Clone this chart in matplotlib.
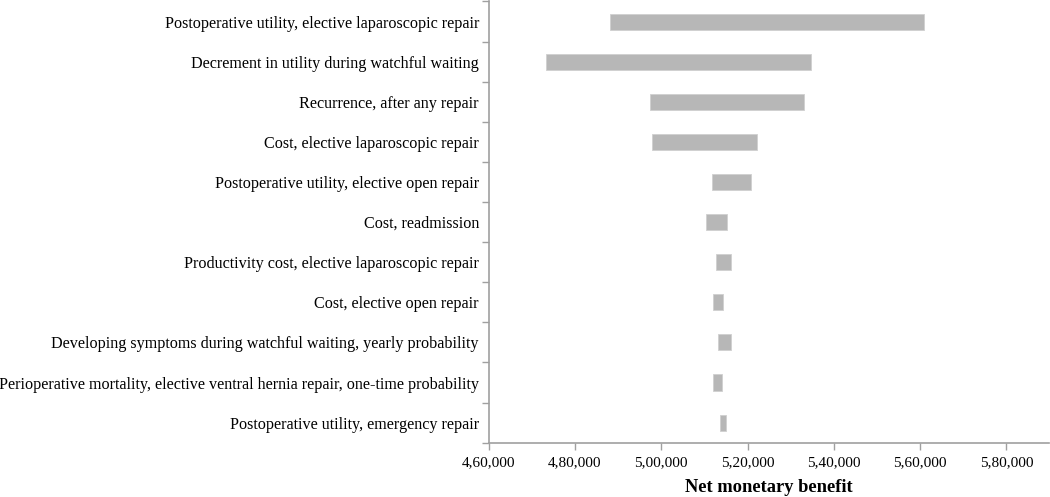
import matplotlib
matplotlib.use("Agg")
import matplotlib.pyplot as plt
from matplotlib.ticker import FixedLocator, FuncFormatter

categories = [
    "Postoperative utility, elective laparoscopic repair",
    "Decrement in utility during watchful waiting",
    "Recurrence, after any repair",
    "Cost, elective laparoscopic repair",
    "Postoperative utility, elective open repair",
    "Cost, readmission",
    "Productivity cost, elective laparoscopic repair",
    "Cost, elective open repair",
    "Developing symptoms during watchful waiting, yearly probability",
    "Perioperative mortality, elective ventral hernia repair, one-time probability",
    "Postoperative utility, emergency repair",
]
low_values = [488120, 473210, 497460, 497930, 511840, 510450, 512770, 512070, 513230, 512000, 513690]
high_values = [560850, 534790, 533030, 522270, 520810, 515320, 516100, 514390, 516240, 514160, 515080]
x_ticks = [460000, 480000, 500000, 520000, 540000, 560000, 580000]


def indian_format(v, pos=None):
    v = int(round(v))
    s = str(v)
    last3 = s[-3:]
    rest = s[:-3]
    parts = []
    while len(rest) > 2:
        parts.insert(0, rest[-2:])
        rest = rest[:-2]
    if rest:
        parts.insert(0, rest)
    return ",".join(parts + [last3]) if parts else last3


plt.rcParams['font.family'] = ['Liberation Serif', 'DejaVu Serif']

fig = plt.figure(figsize=(10.5, 4.97), dpi=100)
ax = fig.add_axes([0.4654, 0.1093, 0.9995 - 0.4654, 0.997 - 0.1093])

ypos = list(range(len(categories)))
widths = [h - l for l, h in zip(low_values, high_values)]
ax.barh(ypos, widths, left=low_values, height=0.4, color="#b7b7b7",
        edgecolor="#d0d0d0", linewidth=0.6)

ax.set_ylim(len(categories) - 0.5, -0.5)
ax.set_xlim(460000, 590000)

ax.set_yticks(ypos)
ax.set_yticklabels(categories, fontsize=11.6)
ax.tick_params(axis='y', which='major', length=0, pad=7)
ax.yaxis.set_minor_locator(FixedLocator([i - 0.5 for i in range(len(categories) + 1)]))
ax.tick_params(axis='y', which='minor', length=5, color="#a0a0a0", width=1)

ax.xaxis.set_major_locator(FixedLocator(x_ticks))
ax.xaxis.set_major_formatter(FuncFormatter(indian_format))
ax.tick_params(axis='x', which='major', length=5, color="#a0a0a0", width=1,
               labelsize=11, pad=5)

for s in ["top", "right"]:
    ax.spines[s].set_visible(False)
for s in ["left", "bottom"]:
    ax.spines[s].set_color("#a0a0a0")
    ax.spines[s].set_linewidth(1.2)

ax.set_xlabel("Net monetary benefit", fontsize=13.3, fontweight="bold")
ax.xaxis.set_label_coords(0.5, -0.082)

fig.savefig("out.png", dpi=100)
